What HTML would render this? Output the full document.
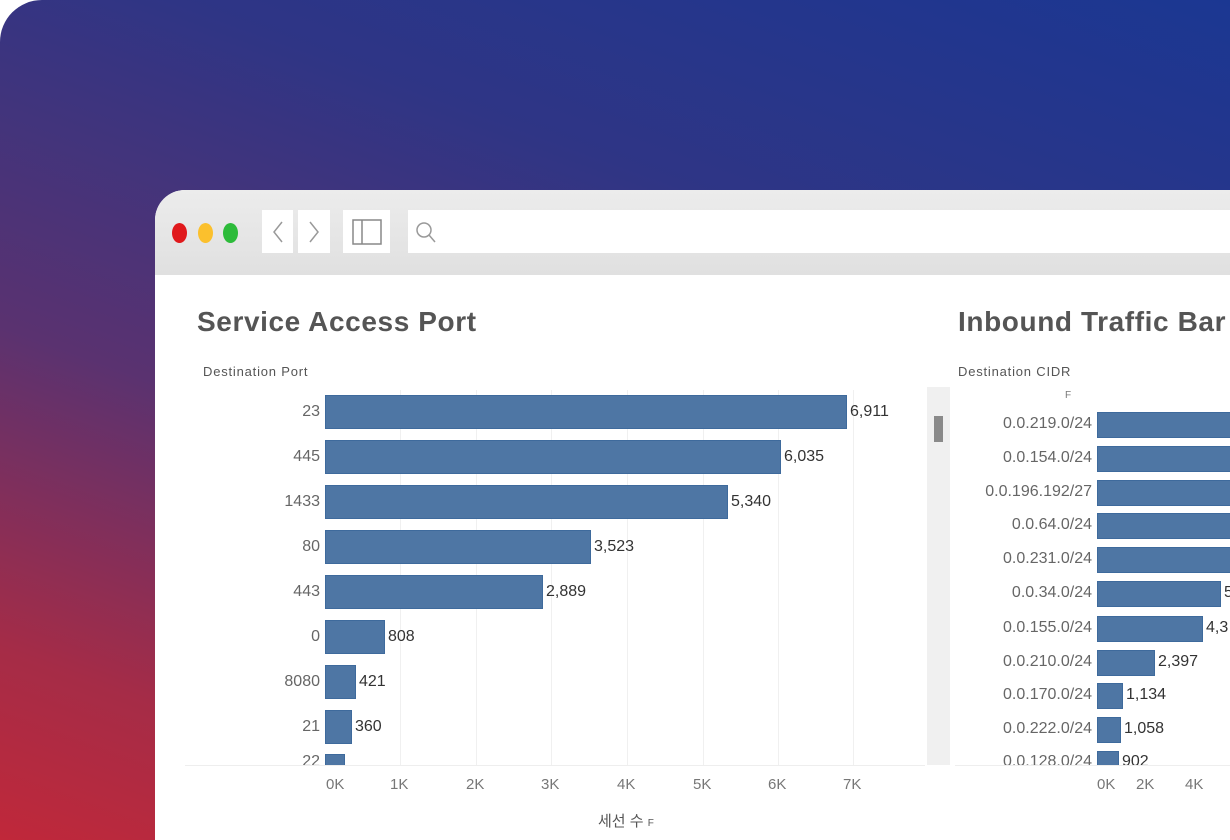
<!DOCTYPE html>
<html><head><meta charset="utf-8"><style>
*{margin:0;padding:0;box-sizing:border-box}
html,body{width:1230px;height:840px;overflow:hidden}
body{background:#fff;font-family:"Liberation Sans","Noto Sans CJK KR",sans-serif;position:relative}
#bg{position:absolute;left:0;top:0;width:1230px;height:840px;border-radius:42px 0 0 0;background:linear-gradient(200deg,#1b3792 0%,#2f3585 30%,#5a3270 60%,#a52c47 85%,#c0283a 100%)}
#win{position:absolute;left:155px;top:190px;width:1075px;height:650px;background:#fff;border-radius:30px 0 0 0;overflow:hidden}
#tb{position:absolute;left:0;top:0;width:100%;height:85px;background:linear-gradient(#ececec,#e0e0e0)}
.dot{position:absolute;top:33px;width:15px;height:20px;border-radius:50%}
.btn{position:absolute;top:20px;height:43px;background:#fff}
.a{position:absolute;white-space:nowrap}
.bar{position:absolute;background:#4e76a4;border:1px solid #3e6a9c}
.lab{position:absolute;color:#666;font-size:16px;text-align:right;white-space:nowrap}
.val{position:absolute;color:#333;font-size:16px;white-space:nowrap}
.tick{position:absolute;color:#777;font-size:15px;top:776px}
.grid{position:absolute;top:390px;width:1px;height:375px;background:#f0f0f0}
</style></head><body>
<div id="bg"></div>
<div id="win">
<div id="tb">
<div class="dot" style="left:17px;background:#e0191c"></div>
<div class="dot" style="left:43px;background:#fbc02d"></div>
<div class="dot" style="left:68px;background:#2dbb3a"></div>
<div class="btn" style="left:107px;width:31px"><svg width="31" height="43"><path d="M20 12 L12 22 L20 32" stroke="#999" stroke-width="1.5" fill="none"/></svg></div>
<div class="btn" style="left:143px;width:32px"><svg width="32" height="43"><path d="M12 12 L20 22 L12 32" stroke="#999" stroke-width="1.5" fill="none"/></svg></div>
<div class="btn" style="left:188px;width:47px"><svg width="47" height="43"><rect x="10" y="10" width="28" height="24" fill="none" stroke="#888" stroke-width="1.5"/><line x1="19" y1="10" x2="19" y2="34" stroke="#888" stroke-width="1.5"/></svg></div>
<div class="btn" style="left:253px;width:900px"><svg width="40" height="43"><circle cx="16" cy="20" r="7" fill="none" stroke="#999" stroke-width="1.5"/><line x1="21" y1="25" x2="27" y2="32" stroke="#999" stroke-width="1.5"/></svg></div>
</div>
</div>
<div class="a" style="left:197px;top:306px;font-size:28px;font-weight:bold;color:#555;letter-spacing:0.6px">Service Access Port</div>
<div class="a" style="left:958px;top:306px;font-size:28px;font-weight:bold;color:#555;letter-spacing:0.6px">Inbound Traffic Bar</div>
<div class="a" style="left:203px;top:364px;font-size:13px;color:#555;letter-spacing:.8px">Destination Port</div>
<div class="a" style="left:958px;top:364px;font-size:13px;color:#555;letter-spacing:.8px">Destination CIDR</div>
<div class="a" style="left:1065px;top:390px;font-size:10px;color:#777">F</div>
<div style="position:absolute;left:185px;top:765px;width:740px;height:1px;background:#eee"></div>
<div style="position:absolute;left:927px;top:387px;width:23px;height:378px;background:#f0f0f0"></div>
<div style="position:absolute;left:934px;top:416px;width:9px;height:26px;background:#8a8a8a"></div>
<div class="grid" style="left:400px"></div><div class="grid" style="left:476px"></div><div class="grid" style="left:551px"></div><div class="grid" style="left:627px"></div><div class="grid" style="left:703px"></div><div class="grid" style="left:778px"></div><div class="grid" style="left:853px"></div>
<div style="position:absolute;left:0;top:390px;width:925px;height:375px;overflow:hidden">
<div class="bar" style="left:325px;top:5px;width:522px;height:34px"></div><div class="val" style="left:850px;top:13px">6,911</div><div class="lab" style="left:220px;width:100px;top:13px">23</div>
<div class="bar" style="left:325px;top:50px;width:456px;height:34px"></div><div class="val" style="left:784px;top:58px">6,035</div><div class="lab" style="left:220px;width:100px;top:58px">445</div>
<div class="bar" style="left:325px;top:95px;width:403px;height:34px"></div><div class="val" style="left:731px;top:103px">5,340</div><div class="lab" style="left:220px;width:100px;top:103px">1433</div>
<div class="bar" style="left:325px;top:140px;width:266px;height:34px"></div><div class="val" style="left:594px;top:148px">3,523</div><div class="lab" style="left:220px;width:100px;top:148px">80</div>
<div class="bar" style="left:325px;top:185px;width:218px;height:34px"></div><div class="val" style="left:546px;top:193px">2,889</div><div class="lab" style="left:220px;width:100px;top:193px">443</div>
<div class="bar" style="left:325px;top:230px;width:60px;height:34px"></div><div class="val" style="left:388px;top:238px">808</div><div class="lab" style="left:220px;width:100px;top:238px">0</div>
<div class="bar" style="left:325px;top:275px;width:31px;height:34px"></div><div class="val" style="left:359px;top:283px">421</div><div class="lab" style="left:220px;width:100px;top:283px">8080</div>
<div class="bar" style="left:325px;top:320px;width:27px;height:34px"></div><div class="val" style="left:355px;top:328px">360</div><div class="lab" style="left:220px;width:100px;top:328px">21</div>
<div class="bar" style="left:325px;top:364px;width:20px;height:34px"></div><div class="lab" style="left:220px;width:100px;top:363px">22</div>
</div>
<div class="tick" style="left:326px">0K</div><div class="tick" style="left:390px">1K</div><div class="tick" style="left:466px">2K</div><div class="tick" style="left:541px">3K</div><div class="tick" style="left:617px">4K</div><div class="tick" style="left:693px">5K</div><div class="tick" style="left:768px">6K</div><div class="tick" style="left:843px">7K</div>
<div class="a" style="left:598px;top:810px;font-size:15px;color:#555">세선 수 <span style="font-size:10px">F</span></div>
<div style="position:absolute;left:955px;top:405px;width:275px;height:360px;overflow:hidden">
<div class="bar" style="left:142px;top:7px;width:200px;height:26px"></div><div class="lab" style="left:0;width:137px;top:10px">0.0.219.0/24</div>
<div class="bar" style="left:142px;top:41px;width:200px;height:26px"></div><div class="lab" style="left:0;width:137px;top:44px">0.0.154.0/24</div>
<div class="bar" style="left:142px;top:75px;width:200px;height:26px"></div><div class="lab" style="left:0;width:137px;top:78px">0.0.196.192/27</div>
<div class="bar" style="left:142px;top:108px;width:200px;height:26px"></div><div class="lab" style="left:0;width:137px;top:111px">0.0.64.0/24</div>
<div class="bar" style="left:142px;top:142px;width:200px;height:26px"></div><div class="lab" style="left:0;width:137px;top:145px">0.0.231.0/24</div>
<div class="bar" style="left:142px;top:176px;width:124px;height:26px"></div><div class="val" style="left:269px;top:179px">5</div><div class="lab" style="left:0;width:137px;top:179px">0.0.34.0/24</div>
<div class="bar" style="left:142px;top:211px;width:106px;height:26px"></div><div class="val" style="left:251px;top:214px">4,3</div><div class="lab" style="left:0;width:137px;top:214px">0.0.155.0/24</div>
<div class="bar" style="left:142px;top:245px;width:58px;height:26px"></div><div class="val" style="left:203px;top:248px">2,397</div><div class="lab" style="left:0;width:137px;top:248px">0.0.210.0/24</div>
<div class="bar" style="left:142px;top:278px;width:26px;height:26px"></div><div class="val" style="left:171px;top:281px">1,134</div><div class="lab" style="left:0;width:137px;top:281px">0.0.170.0/24</div>
<div class="bar" style="left:142px;top:312px;width:24px;height:26px"></div><div class="val" style="left:169px;top:315px">1,058</div><div class="lab" style="left:0;width:137px;top:315px">0.0.222.0/24</div>
<div class="bar" style="left:142px;top:346px;width:22px;height:26px"></div><div class="val" style="left:167px;top:348px">902</div><div class="lab" style="left:0;width:137px;top:348px">0.0.128.0/24</div>
</div>
<div style="position:absolute;left:955px;top:765px;width:275px;height:1px;background:#eee"></div>
<div class="tick" style="left:1097px">0K</div><div class="tick" style="left:1136px">2K</div><div class="tick" style="left:1185px">4K</div>
</body></html>
